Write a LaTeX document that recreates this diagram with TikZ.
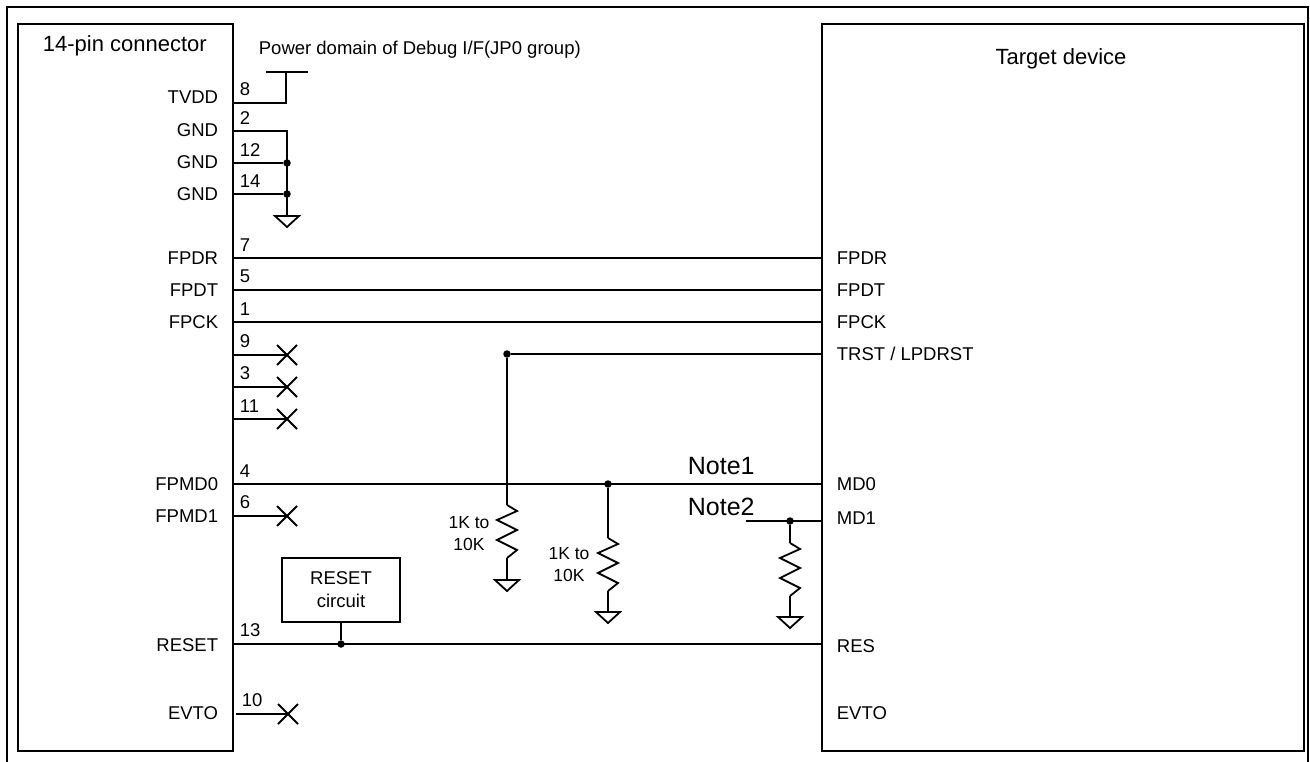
\documentclass[tikz,border=0pt]{standalone}
\usepackage{fontspec}
\setmainfont{Liberation Sans}
\usetikzlibrary{shapes.misc}
\tikzset{
    gnd/.pic={\draw (-12,0) -- (12,0) -- (0,11) -- cycle;},
    resistor/.pic={\draw[line join=miter] (0,0) -- (10,6) -- (-10,15) -- (10,25) -- (-10,35) -- (10,45) -- (0,53);}
}
\begin{document}
\begin{tikzpicture}[x=1pt, y=-1pt, line width=1.8pt,
    dot/.style={fill, circle, minimum size=7.5pt, inner sep=0, outer sep=0},
    nc/.style={cross out, draw, minimum size=20pt, inner sep=0, outer sep=0},
    lsig/.style={anchor=east, inner sep=0, font=\fontsize{18.5}{22}\selectfont},
    rsig/.style={anchor=west, inner sep=0, font=\fontsize{18.5}{22}\selectfont},
    pinno/.style={anchor=south west, inner sep=0, font=\fontsize{18.5}{22}\selectfont},
    rval/.style={align=center, inner sep=0, font=\fontsize{17.5}{22}\selectfont},
    note/.style={anchor=base west, inner sep=0, font=\fontsize{25}{28}\selectfont}]
    \useasboundingbox (0,0) rectangle (1310,762);
    % frame and the two boxes
    \draw[line width=2.8pt] (7,762) -- (7,7) -- (1308,7) -- (1308,762);
    \draw (18,24) rectangle (233,751);
    \draw (822,24) rectangle (1304,751);
    \node[anchor=base west, inner sep=0, font=\fontsize{22}{26}\selectfont] (conn) at (42,52) {14-pin connector};
    \node[anchor=base, inner sep=0, font=\fontsize{22}{26}\selectfont] (tgt) at (1061,65) {Target device};
    \node[anchor=base west, inner sep=0, font=\fontsize{18.5}{22}\selectfont] (pwr) at (258,55) {Power domain of Debug I/F(JP0 group)};

    % left side signal names
    \node[lsig] (lTVDD) at (219,97) {TVDD};
    \node[lsig] (lGNDa) at (219,130) {GND};
    \node[lsig] (lGNDb) at (219,162) {GND};
    \node[lsig] (lGNDc) at (219,194) {GND};
    \node[lsig] (lFPDR) at (219,258) {FPDR};
    \node[lsig] (lFPDT) at (219,290) {FPDT};
    \node[lsig] (lFPCK) at (219,322) {FPCK};
    \node[lsig] (lFPMDa) at (219,484) {FPMD0};
    \node[lsig] (lFPMDb) at (219,516) {FPMD1};
    \node[lsig] (lRESET) at (219,645) {RESET};
    \node[lsig] (lEVTO) at (219,713) {EVTO};

    % right side signal names
    \node[rsig] (rFPDR) at (836,258) {FPDR};
    \node[rsig] (rFPDT) at (836,290) {FPDT};
    \node[rsig] (rFPCK) at (836,322) {FPCK};
    \node[rsig] (rTRST) at (836,354) {TRST / LPDRST};
    \node[rsig] (rMDa) at (836,484) {MD0};
    \node[rsig] (rMDb) at (836,518) {MD1};
    \node[rsig] (rRES) at (836,646) {RES};
    \node[rsig] (rEVTO) at (836,713) {EVTO};

    % pin numbers
    \node[pinno] (n8) at (239,97) {8};
    \node[pinno] (n2) at (239,125) {2};
    \node[pinno] (n12) at (239,157) {12};
    \node[pinno] (n14) at (239,188) {14};
    \node[pinno] (n7) at (239,252) {7};
    \node[pinno] (n5) at (239,284) {5};
    \node[pinno] (n1) at (239,316) {1};
    \node[pinno] (n9) at (239,349) {9};
    \node[pinno] (n3) at (239,381) {3};
    \node[pinno] (n11) at (239,413) {11};
    \node[pinno] (n4) at (239,478) {4};
    \node[pinno] (n6) at (239,510) {6};
    \node[pinno] (n13) at (239,638) {13};
    \node[pinno] (n10) at (241,708) {10};

    % pin ends on the connector
    \coordinate (p8) at (233,103);
    \coordinate (p2) at (233,131);
    \coordinate (p12) at (233,163);
    \coordinate (p14) at (233,194);
    \coordinate (p7) at (233,258);
    \coordinate (p5) at (233,290);
    \coordinate (p1) at (233,322);
    \coordinate (p9) at (233,355);
    \coordinate (p3) at (233,387);
    \coordinate (p11) at (233,419);
    \coordinate (p4) at (233,484);
    \coordinate (p6) at (233,516);
    \coordinate (p13) at (233,644);
    \coordinate (p10) at (236,714);

    % pin ends on the target device
    \coordinate (tFPDR) at (822,258);
    \coordinate (tFPDT) at (822,290);
    \coordinate (tFPCK) at (822,322);
    \coordinate (tTRST) at (822,354);
    \coordinate (tMDa) at (822,484);
    \coordinate (tMDb) at (822,521);
    \coordinate (tRES) at (822,644);

    % power and ground
    \coordinate (vcorner) at (286,103);
    \coordinate (vtop) at (286,72);
    \coordinate (vbarl) at (266,72);
    \coordinate (vbarr) at (308,72);
    \draw (p8) -- (vcorner) -- (vtop);
    \draw (vbarl) -- (vbarr);
    \coordinate (gcorner) at (287,131);
    \node[dot] (gdota) at (287,163) {};
    \node[dot] (gdotb) at (287,194) {};
    \coordinate (gnda) at (287,216);
    \draw (p2) -- (gcorner) -- (gnda);
    \draw (p12) -- (gdota);
    \draw (p14) -- (gdotb);
    \pic at (gnda) {gnd};

    % straight signals
    \draw (p7) -- (tFPDR);
    \draw (p5) -- (tFPDT);
    \draw (p1) -- (tFPCK);
    \draw (p4) -- (tMDa);

    % open pins
    \node[nc] (x9) at (287,355) {};
    \node[nc] (x3) at (287,387) {};
    \node[nc] (x11) at (287,419) {};
    \node[nc] (x6) at (287,516) {};
    \node[nc] (x10) at (288,714) {};
    \draw (p9) -- (x9.center);
    \draw (p3) -- (x3.center);
    \draw (p11) -- (x11.center);
    \draw (p6) -- (x6.center);
    \draw (p10) -- (x10.center);

    % TRST pull-down
    \node[dot] (trstdot) at (507,354) {};
    \draw (trstdot) -- (tTRST);
    \coordinate (ra) at (507,505);
    \coordinate (raend) at (507,558);
    \coordinate (gndb) at (507,580);
    \draw (trstdot) -- (ra);
    \pic at (ra) {resistor};
    \draw (raend) -- (gndb);
    \pic at (gndb) {gnd};
    \node[rval] (rvala) at (469,534) {1K to\\10K};

    % MD0 pull-down
    \node[dot] (mdadot) at (608,484) {};
    \coordinate (rb) at (608,538);
    \coordinate (rbend) at (608,591);
    \coordinate (gndc) at (608,612);
    \draw (mdadot) -- (rb);
    \pic at (rb) {resistor};
    \draw (rbend) -- (gndc);
    \pic at (gndc) {gnd};
    \node[rval] (rvalb) at (569,565) {1K to\\10K};

    % MD1 pull-down
    \node[note] (notea) at (687,474) {Note1};
    \node[note] (noteb) at (687,515) {Note2};
    \coordinate (mdbstart) at (746,521);
    \node[dot] (mdbdot) at (790,521) {};
    \coordinate (rc) at (790,543);
    \coordinate (rcend) at (790,596);
    \coordinate (gndd) at (790,617);
    \draw (mdbstart) -- (tMDb);
    \draw (mdbdot) -- (rc);
    \pic at (rc) {resistor};
    \draw (rcend) -- (gndd);
    \pic at (gndd) {gnd};

    % reset circuit
    \node[draw, minimum width=118pt, minimum height=64pt, align=center, inner sep=0,
        font=\fontsize{18.5}{23}\selectfont] (rstbox) at (341,590) {RESET\\circuit};
    \node[dot] (rstdot) at (341,644) {};
    \draw (p13) -- (tRES);
    \draw (rstbox.south) -- (rstdot);
\end{tikzpicture}
\end{document}
